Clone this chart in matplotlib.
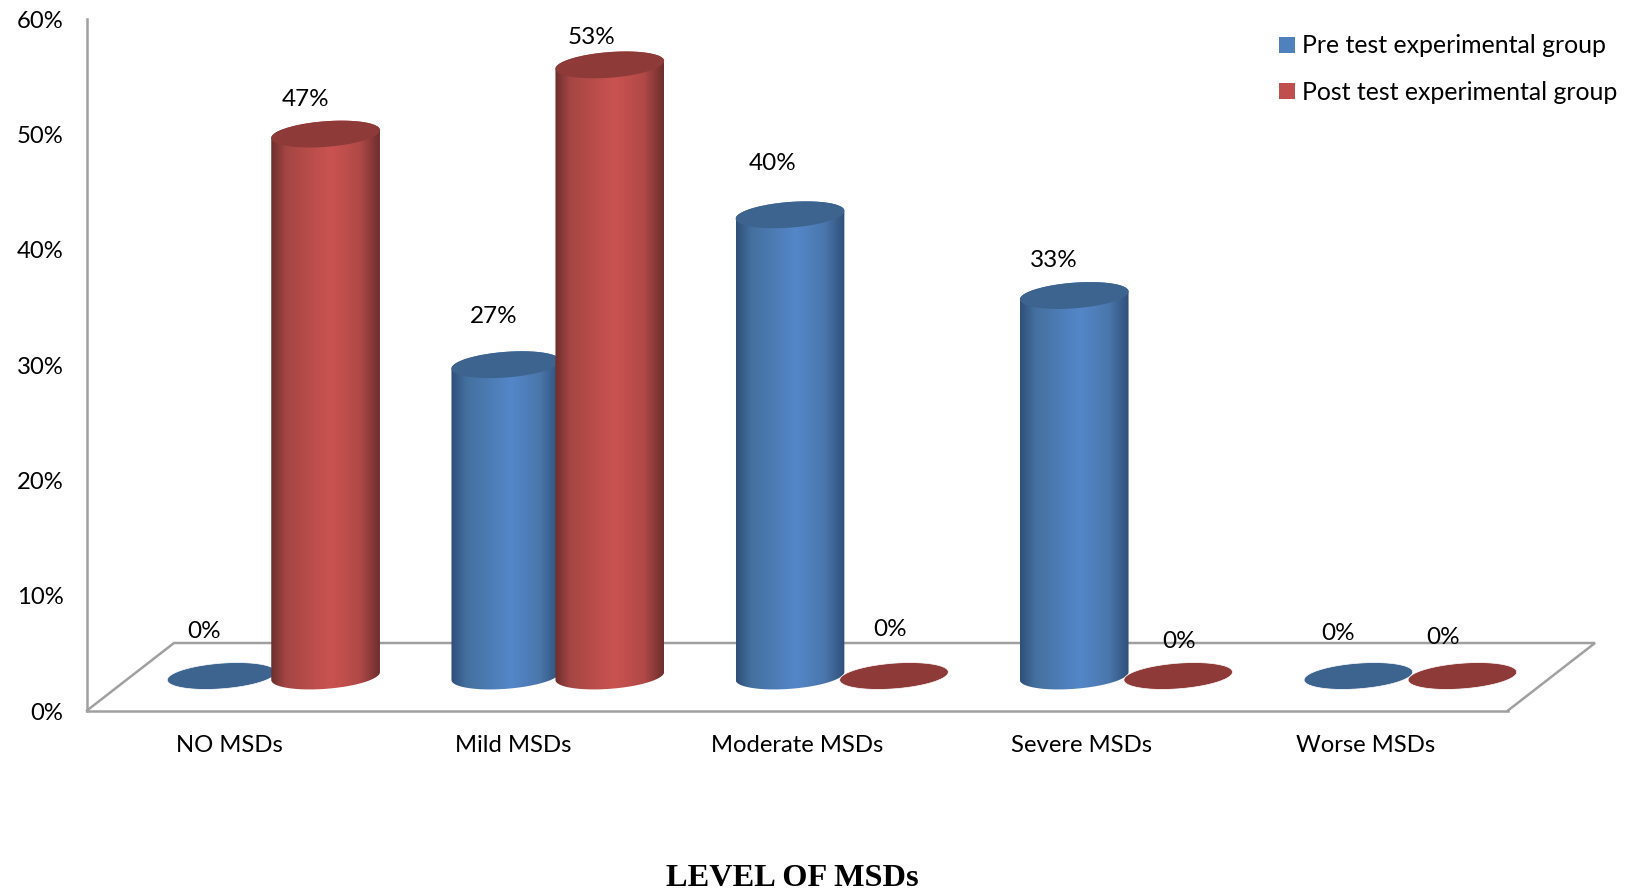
import numpy as np
import matplotlib
matplotlib.use("Agg")
import matplotlib.pyplot as plt
from matplotlib.colors import LinearSegmentedColormap
from matplotlib.patches import Patch, Polygon
from matplotlib.transforms import ScaledTranslation

categories = ["NO MSDs", "Mild MSDs", "Moderate MSDs", "Severe MSDs", "Worse MSDs"]
pre_test = [0, 27, 40, 33, 0]
post_test = [47, 53, 0, 0, 0]
y_ticks = [0, 10, 20, 30, 40, 50, 60]

# hand placed label offsets from the top of each cylinder (px right, px up)
pre_nudge = [(-18, 45), (-12, 48), (-17, 51), (-20, 35), (-20, 42)]
post_nudge = [(-20, 35), (-18, 27), (-4, 46), (1, 35), (-19, 38)]

W, H = 1631, 892
LEFT, RIGHT, TOP, BOTTOM = 87, 1508, 18.7, 710.5
GRID = "#a0a0a0"

blue_cm = LinearSegmentedColormap.from_list(
    "blue", [(0, "#2f4f78"), (0.14, "#44709f"), (0.55, "#5487c9"), (0.82, "#4a76ab"), (1, "#2f4f78")])
red_cm = LinearSegmentedColormap.from_list(
    "red", [(0, "#6c2e2d"), (0.14, "#a54644"), (0.55, "#ca5350"), (0.82, "#b04947"), (1, "#6c2e2d")])
blue_top = "#3d638f"
red_top = "#8e3a39"

plt.rcParams["font.family"] = ["Lato", "DejaVu Sans"]
fig = plt.figure(figsize=(W / 100, H / 100), dpi=100)
ax = fig.add_axes([LEFT / W, 1 - BOTTOM / H, (RIGHT - LEFT) / W, (BOTTOM - TOP) / H])

# one x unit and one percent in pixels
px_x = (RIGHT - LEFT) / 5
px_y = (BOTTOM - TOP) / 60

# shift from the front plane to the row the cylinders stand on
depth_x = 44.5 / px_x
depth_y = 34.5 / px_y
half_gap = 52 / px_x

A, B, TILT = 54.5, 12.8, np.radians(4.4)


def ellipse_xy(cx, cy, lo=0, hi=2 * np.pi):
    t = np.linspace(lo, hi, 80)
    ex = A * np.cos(t) * np.cos(TILT) - B * np.sin(t) * np.sin(TILT)
    ey = A * np.cos(t) * np.sin(TILT) + B * np.sin(t) * np.cos(TILT)
    return cx + ex / px_x, cy + ey / px_y


def cylinder(cx, value, cmap, top_color, z):
    base = depth_y
    top = value + depth_y
    if value > 0:
        # left/right extremes of the tilted ellipse
        t0 = np.arctan2(-B * np.sin(TILT), A * np.cos(TILT))
        bx, by = ellipse_xy(cx, base, t0 + np.pi, t0 + 2 * np.pi)
        tx, ty = ellipse_xy(cx, top, t0, t0 + np.pi)
        outline = np.column_stack([np.r_[bx, tx], np.r_[by, ty]])
        body = Polygon(outline, closed=True, transform=ax.transData, fc="none", ec="none")
        ax.add_patch(body)
        grad = np.linspace(0, 1, 256).reshape(1, -1)
        im = ax.imshow(grad, cmap=cmap, aspect="auto", interpolation="bilinear", zorder=z,
                       extent=[outline[:, 0].min(), outline[:, 0].max(), base - 3, top + 3])
        im.set_clip_path(body)
    ex, ey = ellipse_xy(cx, top)
    edge = "white" if value == 0 else "none"
    ax.fill(ex, ey, fc=top_color, ec=edge, lw=0.5, zorder=z + 0.5, clip_on=False)


# floor of the chart, receding to the back
back_x = 87 / px_x
back_y = 67.5 / px_y
ax.plot([0, back_x, 5 + back_x, 5], [0, back_y, back_y, 0], color=GRID, lw=1.8, zorder=1,
        clip_on=False, solid_joinstyle="miter")

for i in range(len(categories)):
    x0 = i + 0.5 + depth_x
    cylinder(x0 - half_gap, pre_test[i], blue_cm, blue_top, 3 + i * 2)
    cylinder(x0 + half_gap, post_test[i], red_cm, red_top, 4 + i * 2)
    ax.annotate(f"{pre_test[i]}%", (x0 - half_gap, pre_test[i] + depth_y), xytext=pre_nudge[i],
                textcoords="offset pixels", ha="center", va="center", fontsize=17.5, zorder=30)
    ax.annotate(f"{post_test[i]}%", (x0 + half_gap, post_test[i] + depth_y), xytext=post_nudge[i],
                textcoords="offset pixels", ha="center", va="center", fontsize=17.5, zorder=30)

ax.set_xlim(0, 5)
ax.set_ylim(0, 60)
ax.set_xticks(np.arange(len(categories)) + 0.5, categories)
ax.set_yticks(y_ticks, [f"{v}%" for v in y_ticks])
ax.tick_params(axis="both", length=0, labelsize=17.2)
ax.tick_params(axis="x", pad=18)
ax.tick_params(axis="y", pad=17)
ax.patch.set_visible(False)
for side in ["top", "right"]:
    ax.spines[side].set_visible(False)
for side in ["left", "bottom"]:
    ax.spines[side].set_color(GRID)
    ax.spines[side].set_linewidth(1.8)

# y labels sit slightly below their nominal height
drop = ScaledTranslation(0, -0.5 / 100, fig.dpi_scale_trans)
for lab in ax.get_yticklabels():
    lab.set_transform(lab.get_transform() + drop)

handles = [Patch(fc="#4f81bd", label="Pre test experimental group"),
           Patch(fc="#c0504d", label="Post test experimental group")]
fig.legend(handles=handles, loc="upper left", bbox_to_anchor=(1262 / W, 1 - 17 / H),
           frameon=False, fontsize=17.9, handlelength=0.62, handleheight=0.62,
           handletextpad=0.3, labelspacing=0.95, borderpad=0.2)

fig.text(792 / W, 1 - 878 / H, "LEVEL OF MSDs", family="Liberation Serif", weight="bold",
         fontsize=23.3, ha="center", va="center")

fig.savefig("out.png", dpi=100)
